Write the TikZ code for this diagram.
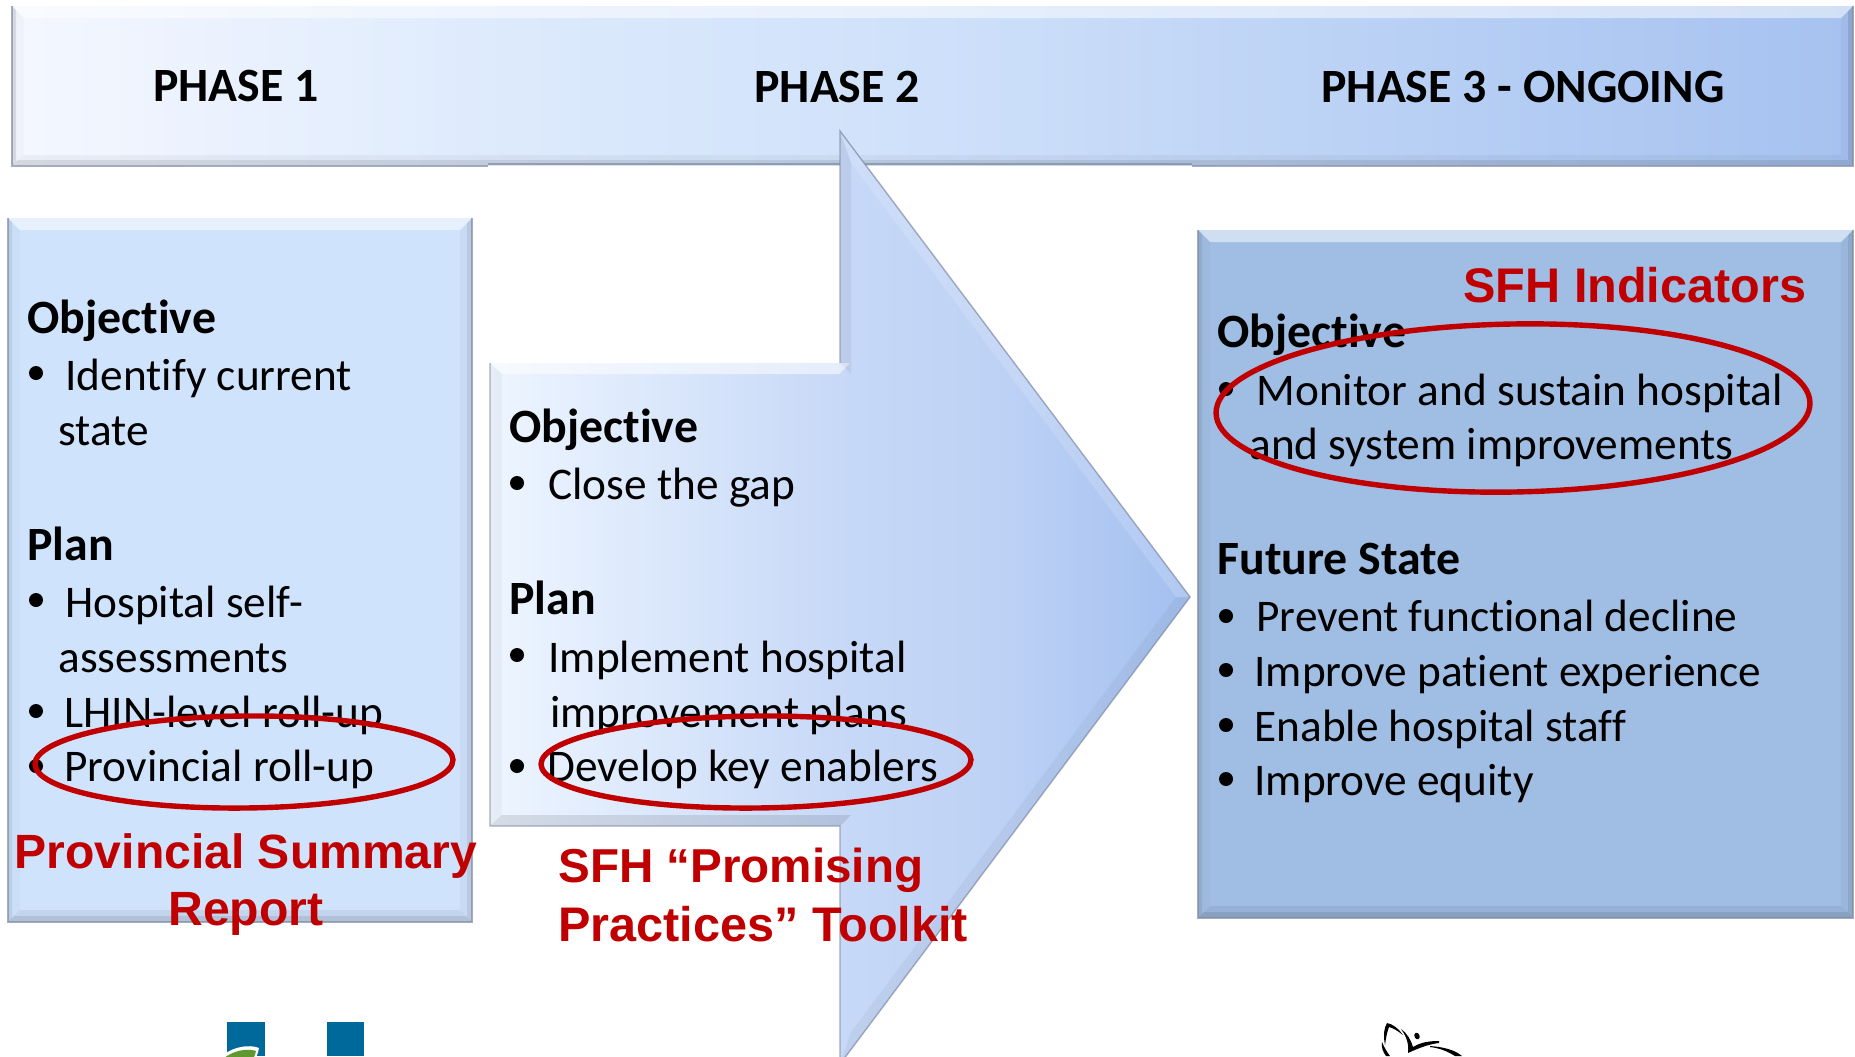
\documentclass[tikz,border=0pt]{standalone}
\usepackage{fontspec}
\setmainfont[Ligatures=NoCommon]{Carlito}
\newfontfamily\redfont{Liberation Sans}
\pgfdeclarehorizontalshading{bannershade}{100bp}{rgb(0bp)=(0.96,0.97,1); rgb(25bp)=(0.96,0.97,1); rgb(38bp)=(0.87,0.92,0.99); rgb(50bp)=(0.81,0.88,0.98); rgb(62bp)=(0.73,0.82,0.96); rgb(75bp)=(0.65,0.76,0.94); rgb(100bp)=(0.65,0.76,0.94)}
\pgfdeclarehorizontalshading{arrowshade}{100bp}{rgb(0bp)=(0.93,0.96,1); rgb(25bp)=(0.93,0.96,1); rgb(50bp)=(0.78,0.85,0.97); rgb(62bp)=(0.74,0.82,0.96); rgb(75bp)=(0.64,0.75,0.94); rgb(100bp)=(0.64,0.75,0.94)}
\definecolor{boxa}{HTML}{D0E3FC}
\definecolor{boxc}{HTML}{A0BDE3}
\definecolor{edgegray}{HTML}{7F8BA3}
\definecolor{ringred}{HTML}{C00000}
\definecolor{labelred}{HTML}{C00000}
\definecolor{logoblue}{HTML}{00699B}
\definecolor{logogreen}{HTML}{5E9A30}
\newcommand{\bevelrect}[4]{%
  \fill[white,opacity=.5] (#1,#2) -- (#3,#2) -- (#3-12,#2+12) -- (#1+12,#2+12) -- cycle;
  \fill[black,opacity=.06] (#1,#4) -- (#3,#4) -- (#3-12,#4-12) -- (#1+12,#4-12) -- cycle;
  \fill[black,opacity=.09] (#1,#4) -- (#3,#4) -- (#3-6,#4-6) -- (#1+6,#4-6) -- cycle;
  \fill[black,opacity=.02] (#1,#2) -- (#1,#4) -- (#1+12,#4-12) -- (#1+12,#2+12) -- cycle;
  \fill[black,opacity=.03] (#3,#2) -- (#3,#4) -- (#3-12,#4-12) -- (#3-12,#2+12) -- cycle;
  \fill[black,opacity=.08] (#3,#2) -- (#3,#4) -- (#3-5,#4-5) -- (#3-5,#2+5) -- cycle;
  \fill[black,opacity=.07] (#1,#2) -- (#1,#4) -- (#1+4,#4-4) -- (#1+4,#2+4) -- cycle;
  \draw[edgegray,opacity=.7,line width=.7pt] (#1,#2) -- (#1,#4) -- (#3,#4) -- (#3,#2);
}
\tikzset{
  bodytext/.style={anchor=base west,inner sep=0pt,font=\fontsize{22.65}{26}\selectfont},
  headtext/.style={anchor=base west,inner sep=0pt,font=\fontsize{23.9}{26}\selectfont\bfseries},
  phasetext/.style={anchor=base west,inner sep=0pt,font=\fontsize{23.9}{26}\selectfont\bfseries},
  redtext/.style={anchor=base west,inner sep=0pt,text=labelred,font=\fontsize{24.3}{28}\selectfont\redfont\bfseries},
  redcentre/.style={anchor=base,inner sep=0pt,text=labelred,font=\fontsize{24.05}{28}\selectfont\redfont\bfseries},
  redtight/.style={anchor=base west,inner sep=0pt,text=labelred,font=\fontsize{23.8}{28}\selectfont\redfont\bfseries},
  ring/.style={draw=ringred,line width=2.7pt},
  dotmark/.style={fill=black}
}
\begin{document}
\begin{tikzpicture}[x=0.5pt,y=-0.5pt]
\useasboundingbox (0,0) rectangle (1855,1056);
\fill[white] (0,0) rectangle (1855,1056);
\begin{scope}
\clip (0,0) rectangle (1855,1056);
% banner
\shade[shading=bannershade] (12,6) rectangle (1853,165);
\fill[white,opacity=.5] (12,6) -- (1853,6) -- (1841,18) -- (24,18) -- cycle;
\fill[black,opacity=.04] (12,165) -- (1853,165) -- (1841,155) -- (24,155) -- cycle;
\fill[black,opacity=.09] (12,165) -- (1853,165) -- (1847,160) -- (18,160) -- cycle;
\fill[black,opacity=.02] (12,6) -- (12,165) -- (24,155) -- (24,18) -- cycle;
\fill[black,opacity=.03] (1853,6) -- (1853,165) -- (1841,155) -- (1841,18) -- cycle;
\fill[black,opacity=.10] (1853,6) -- (1853,165) -- (1848,160) -- (1848,11) -- cycle;
\fill[black,opacity=.10] (12,6) -- (12,165) -- (16,161) -- (16,10) -- cycle;
\draw[edgegray,opacity=.7,line width=.7pt] (12,6) -- (12,166) -- (488,166);
\draw[edgegray,opacity=.7,line width=.7pt] (488,164) -- (1192,164);
\draw[edgegray,opacity=.7,line width=.7pt] (1192,166) -- (1853,166) -- (1853,6);
% box 1
\fill[boxa] (8,218) rectangle (472,922);
\bevelrect{8}{218}{472}{922}
% box 3
\fill[boxc] (1198,230) rectangle (1853,918);
\bevelrect{1198}{230}{1853}{918}
% arrow
\shade[shading=arrowshade] (490,363) -- (840,363) -- (840,131) -- (1190,597) -- (840,1064) -- (840,826) -- (490,826) -- cycle;
\fill[white,opacity=.55] (490,363) -- (850,363) -- (839,374) -- (502,374) -- cycle;
\fill[white,opacity=.15] (840,131) -- (1190,597) -- (1176,597) -- (851,163) -- cycle;
\fill[black,opacity=.05] (840,131) -- (851,163) -- (851,374) -- (840,363) -- cycle;
\fill[black,opacity=.04] (1190,597) -- (840,1064) -- (851,1032) -- (1176,597) -- cycle;
\fill[black,opacity=.10] (490,826) -- (840,826) -- (851,815) -- (502,815) -- cycle;
\fill[black,opacity=.03] (490,363) -- (490,826) -- (502,815) -- (502,374) -- cycle;
\draw[edgegray,opacity=.7,line width=.7pt] (840,363) -- (840,131) -- (1190,597) -- (840,1064) -- (840,826) -- (490,826) -- (490,363);
% logos
\fill[logoblue] (227,1022) rectangle (265,1056);
\fill[logoblue] (327,1022) rectangle (364,1056);
\fill[white] (218,1060) .. controls (230,1046) and (250,1044) .. (259,1048) .. controls (258,1054) and (256,1058) .. (254,1060) -- cycle;
\fill[logogreen] (222,1060) .. controls (232,1050) and (248,1048) .. (256,1051) .. controls (255,1055) and (254,1058) .. (252,1060) -- cycle;
\fill[black] (1385,1045) .. controls (1383,1035) and (1384,1028) .. (1387,1023) .. controls (1393,1024) and (1399,1029) .. (1403,1035) .. controls (1398,1031) and (1393,1028) .. (1389,1027) .. controls (1387,1032) and (1386,1038) .. (1385,1045) -- cycle;
\fill[black] (1401,1029) .. controls (1407,1033) and (1411,1040) .. (1413,1047) .. controls (1421,1042) and (1430,1041) .. (1439,1041) -- (1439,1043) .. controls (1430,1044) and (1421,1047) .. (1408,1053) .. controls (1409,1045) and (1407,1037) .. (1401,1029) -- cycle;
\fill[black,rotate around={25:(1417,1036)}] (1417,1036) ellipse (2.6 and 3.4);
\fill[black] (1430,1046) .. controls (1444,1047) and (1455,1050) .. (1462,1056) -- (1455,1056) .. controls (1447,1051) and (1439,1048) .. (1430,1047) -- cycle;
\fill[black] (1382,1042) .. controls (1384,1047) and (1387,1052) .. (1390,1056) -- (1386,1056) .. controls (1383,1052) and (1381,1047) .. (1382,1042) -- cycle;
\end{scope}
% phase headers
\node[phasetext] (ph1) at (153,101) {PHASE 1};
\node[phasetext] (ph2) at (754,102) {PHASE 2};
\node[phasetext] (ph3) at (1321,102) {PHASE 3 - ONGOING};
% column 1
\node[headtext] (a1) at (27,333) {Objective};
\node[bodytext] (a2) at (65,390) {Identify current};
\node[bodytext] (a3) at (58,445) {state};
\node[headtext] (a4) at (27,560) {Plan};
\node[bodytext] (a5) at (65,617) {Hospital self-};
\node[bodytext] (a6) at (58,672) {assessments};
\node[bodytext] (a7) at (64,727) {LHIN-level roll-up};
\node[bodytext] (a8) at (64,781) {Provincial roll-up};
% column 2
\node[headtext] (b1) at (509,442) {Objective};
\node[bodytext] (b2) at (548,499) {Close the gap};
\node[headtext] (b3) at (509,614) {Plan};
\node[bodytext] (b4) at (548,672) {Implement hospital};
\node[bodytext] (b5) at (550,727) {improvement plans};
\node[bodytext] (b6) at (547,781) {Develop key enablers};
% column 3
\node[headtext] (c1) at (1217,347) {Objective};
\node[bodytext] (c2) at (1256,405) {Monitor and sustain hospital};
\node[bodytext] (c3) at (1249,459) {and system improvements};
\node[headtext] (c4) at (1217,574) {Future State};
\node[bodytext] (c5) at (1256,631) {Prevent functional decline};
\node[bodytext] (c6) at (1254,686) {Improve patient experience};
\node[bodytext] (c7) at (1254,741) {Enable hospital staff};
\node[bodytext] (c8) at (1254,795) {Improve equity};
% bullets
\foreach \px/\py in {36/373,36/600,36/711,36/766,517/483,517/655,517/766,1226/389,1226/616,1226/670,1226/725,1226/779}
  \fill[dotmark] (\px,\py) circle (7);
% rings
\draw[ring,rotate around={.6:(244,762)}] (244,762) ellipse (209 and 46);
\draw[ring,rotate around={.6:(756,762)}] (756,762) ellipse (215 and 46);
\draw[ring,rotate around={1:(1513,408)}] (1513,408) ellipse (297 and 84);
% red labels
\node[redcentre] (r1) at (246,868) {Provincial Summary};
\node[redcentre] (r2) at (246,925) {Report};
\node[redtight] (r3) at (558,882) {SFH “Promising};
\node[redtext] (r4) at (558,941) {Practices” Toolkit};
\node[redtext] (r5) at (1463,302) {SFH Indicators};
\end{tikzpicture}
\end{document}
